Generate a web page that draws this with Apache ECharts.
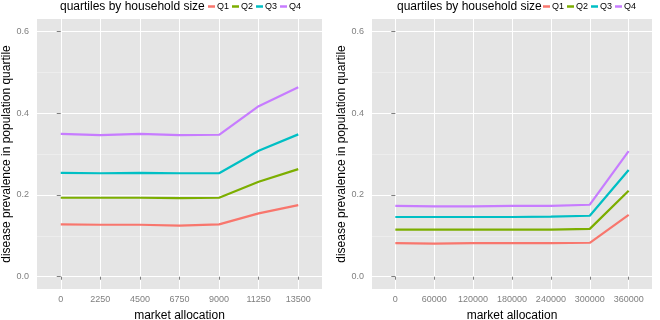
<!DOCTYPE html>
<html>
<head>
<meta charset="utf-8">
<script src="https://cdn.jsdelivr.net/npm/echarts@6/dist/echarts.min.js"></script>
<style>
  html, body { margin: 0; padding: 0; background: #fff; }
  #chart { width: 660px; height: 320px; }
</style>
</head>
<body>
<div id="chart"></div>
<script>
// data
var quartiles = ['Q1', 'Q2', 'Q3', 'Q4'];
var colors = ['#F8766D', '#7CAE00', '#00BFC4', '#C77CFF'];

var xLeft = [0, 2250, 4500, 6750, 9000, 11250, 13500];
var leftQ1 = [0.128, 0.127, 0.127, 0.125, 0.128, 0.155, 0.175];
var leftQ2 = [0.193, 0.193, 0.193, 0.192, 0.193, 0.232, 0.263];
var leftQ3 = [0.254, 0.253, 0.254, 0.253, 0.253, 0.308, 0.348];
var leftQ4 = [0.349, 0.346, 0.349, 0.346, 0.347, 0.417, 0.463];

var xRight = [0, 60000, 120000, 180000, 240000, 300000, 360000];
var rightQ1 = [0.082, 0.081, 0.082, 0.082, 0.082, 0.083, 0.151];
var rightQ2 = [0.115, 0.115, 0.115, 0.115, 0.115, 0.117, 0.210];
var rightQ3 = [0.146, 0.146, 0.146, 0.146, 0.147, 0.149, 0.261];
var rightQ4 = [0.173, 0.172, 0.172, 0.173, 0.173, 0.176, 0.307];

var yTicks = [0, 0.2, 0.4, 0.6];
var yMinor = [0.1, 0.3, 0.5];

var font = 'Liberation Sans';
var chart = echarts.init(document.getElementById('chart'));

function pairs(xs, ys) {
  return xs.map(function (x, i) { return [x, ys[i]]; });
}

function xAxis(idx, ticks, pad) {
  return {
    type: 'value', gridIndex: idx,
    min: ticks[0] - pad, max: ticks[ticks.length - 1] + pad,
    name: 'market allocation', nameLocation: 'middle', nameGap: 21,
    nameTextStyle: { color: '#000', fontSize: 12, fontFamily: font },
    axisLine: { show: false },
    axisTick: { show: true, length: 3, customValues: ticks, lineStyle: { color: '#7f7f7f' } },
    axisLabel: {
      customValues: ticks, color: '#7f7f7f', fontSize: 9, fontFamily: font, margin: 6,
      formatter: function (v) { return String(v); }
    },
    splitLine: { show: true, lineStyle: { color: '#fff', width: 1 } }
  };
}

function yAxis(idx) {
  return {
    type: 'value', gridIndex: idx, min: -0.03, max: 0.63,
    name: 'disease prevalence in population quartile', nameLocation: 'middle', nameGap: 23,
    nameTextStyle: { color: '#000', fontSize: 12, fontFamily: font },
    axisLine: { show: false },
    axisTick: { show: true, length: 4, customValues: yTicks, lineStyle: { color: '#7f7f7f' } },
    axisLabel: {
      customValues: yTicks, color: '#7f7f7f', fontSize: 9, fontFamily: font, margin: 8,
      formatter: function (v) { return v.toFixed(1); }
    },
    splitLine: { show: true, lineStyle: { color: '#fff', width: 1 } }
  };
}

function minorAxis(idx) {
  return {
    type: 'value', gridIndex: idx, min: -0.03, max: 0.63, position: 'left',
    axisLine: { show: false },
    axisTick: { show: false, customValues: yMinor },
    axisLabel: { show: false, customValues: yMinor },
    splitLine: { show: true, lineStyle: { color: '#f2f2f2', width: 0.6 } }
  };
}

function lineSeries(name, xi, yi, xs, ys, color) {
  return {
    name: name, type: 'line', xAxisIndex: xi, yAxisIndex: yi,
    data: pairs(xs, ys), showSymbol: false, symbol: 'none',
    lineStyle: { color: color, width: 2.2 }, itemStyle: { color: color },
    z: 5
  };
}

var leftSets = [leftQ1, leftQ2, leftQ3, leftQ4];
var rightSets = [rightQ1, rightQ2, rightQ3, rightQ4];
var series = [];
quartiles.forEach(function (q, i) {
  series.push(lineSeries(q, 0, 2, xLeft, leftSets[i], colors[i]));
});
quartiles.forEach(function (q, i) {
  series.push(lineSeries(q, 1, 3, xRight, rightSets[i], colors[i]));
});

function legend(left) {
  return {
    left: left, top: 2, padding: 0, data: quartiles, icon: 'rect',
    itemWidth: 7, itemHeight: 2.5, itemGap: 3,
    textStyle: { fontSize: 9, color: '#000', fontFamily: font, padding: [0, 0, 0, -3] },
    selectedMode: false
  };
}

function title(left) {
  return {
    text: 'quartiles by household size', left: left, top: 1, padding: 0,
    textStyle: { fontSize: 12, fontWeight: 'normal', color: '#000', fontFamily: font }
  };
}

chart.setOption({
  animation: false,
  title: [title(60), title(397)],
  legend: [legend(208), legend(543)],
  grid: [
    { left: 37, top: 19, width: 285, height: 270, show: true, backgroundColor: '#e5e5e5',
      borderWidth: 0, outerBoundsMode: 'none' },
    { left: 372, top: 19, width: 280, height: 270, show: true, backgroundColor: '#e5e5e5',
      borderWidth: 0, outerBoundsMode: 'none' }
  ],
  xAxis: [xAxis(0, xLeft, 1350), xAxis(1, xRight, 36000)],
  yAxis: [yAxis(0), yAxis(1), minorAxis(0), minorAxis(1)],
  series: series
});
</script>
</body>
</html>
